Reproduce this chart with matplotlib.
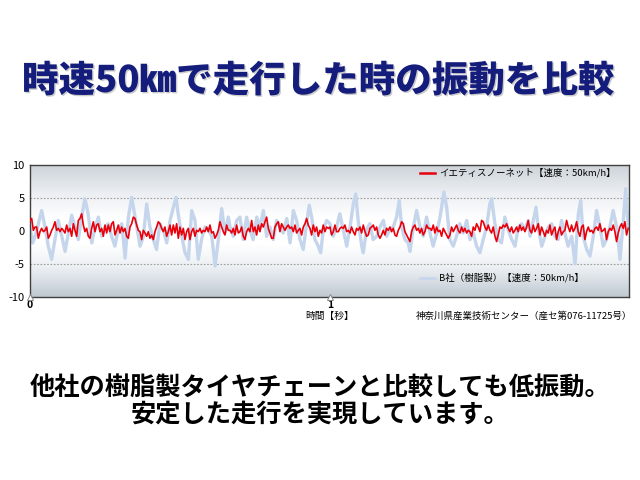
import numpy as np
import matplotlib
matplotlib.use("Agg")
import matplotlib.pyplot as plt
from matplotlib.colors import LinearSegmentedColormap
import matplotlib.patheffects as pe

plt.rcParams['font.family'] = ['Noto Sans CJK JP', 'DejaVu Sans']

title = "時速50㎞で走行した時の振動を比較"
caption1 = "他社の樹脂製タイヤチェーンと比較しても低振動。"
caption2 = "安定した走行を実現しています。"
xlabel = "時間【秒】"
source = "神奈川県産業技術センター（産セ第076-11725号）"
label_red = "イエティスノーネット【速度：50km/h】"
label_blue = "B社（樹脂製）【速度：50km/h】"
yticks = [10, 5, 0, -5, -10]
xticks = [0, 1]

# Red series (イエティスノーネット), sampled every 1/180 s
red_v = [
    1.6,1.9,0.1,0.6,0.6,-1.1,-0.1,0.4,-0.1,0.1,0.6,-1.1,-0.6,0.1,0.6,1.4,0.1,0.4,-0.1,0.4,
    0.1,-0.3,0.9,-0.1,0.4,-0.8,1.1,0.1,-0.8,1.6,1.9,2.6,0.9,-0.1,0.4,-0.8,-1.1,0.4,1.4,-0.1,
    0.9,1.1,-0.1,0.4,-0.8,0.9,-0.3,0.9,-0.1,1.1,1.4,-0.6,0.1,0.9,-0.3,0.6,-0.1,0.4,-0.8,-1.1,
    0.6,1.1,2.1,1.9,0.9,0.1,-0.1,-1.3,0.1,-0.3,-0.8,-0.1,-1.1,-0.6,-1.3,-0.1,0.6,1.4,1.1,0.4,
    -0.1,0.6,-0.8,-0.1,0.9,-0.6,0.9,-0.3,1.1,-1.1,0.6,-0.6,0.4,-1.3,-0.1,0.4,-1.3,-0.1,0.4,-0.8,
    0.1,-0.1,0.4,-0.3,0.1,-0.1,0.6,-0.1,0.9,-0.3,-0.1,-1.1,-0.6,0.1,1.4,0.6,-0.1,-0.6,0.9,0.1,
    0.1,-0.3,0.4,-0.6,0.9,-0.3,-0.1,0.6,-0.8,-1.3,-0.1,0.4,-0.1,1.6,-0.1,0.6,-0.6,0.9,-0.1,1.1,
    0.6,1.4,2.1,0.4,-0.3,-1.1,-1.1,0.6,1.1,1.4,-0.1,1.1,0.6,0.1,0.6,0.9,0.4,0.6,-0.1,0.9,
    -0.3,0.1,0.4,-0.6,0.6,1.1,1.9,0.9,0.4,-0.6,0.9,-0.1,0.6,-0.8,0.1,-0.3,0.9,-0.1,0.6,0.4,
    0.6,-0.6,-0.1,0.9,-0.1,-0.1,0.4,0.6,0.4,0.9,-0.1,0.1,-0.3,0.6,-0.1,-0.6,0.4,0.1,0.6,-0.3,
    0.9,-0.1,-0.8,-0.6,0.4,0.6,0.9,0.1,0.6,-0.6,-1.1,-0.6,0.1,-0.6,0.4,0.1,0.6,-0.1,0.4,-0.6,
    -0.8,0.1,0.6,1.4,1.1,-0.1,-0.6,-1.1,-1.6,-0.1,0.6,0.9,0.1,0.4,-0.3,0.4,-0.6,-0.1,0.9,0.4,
    0.4,0.1,0.9,-0.3,0.6,-0.1,0.1,-0.8,0.4,-0.1,-0.6,-1.1,-0.6,0.6,-0.1,0.4,0.9,0.1,-0.3,0.6,
    -0.1,0.4,-0.3,0.1,-0.1,-0.8,0.6,0.1,1.1,0.6,-0.1,1.6,1.4,0.6,0.1,0.9,0.1,-0.3,0.6,-0.8,
    -1.6,-0.6,0.6,0.4,0.9,0.6,1.1,0.4,-0.1,0.6,-0.3,0.1,0.6,-0.1,0.9,0.1,0.6,-0.1,0.6,1.6,
    0.1,-0.3,0.9,-0.1,0.4,1.1,-0.6,0.6,-0.1,-0.8,0.1,-0.3,0.9,-0.6,0.1,0.6,-1.3,-0.1,0.6,-0.6,
    -0.1,0.1,1.6,0.6,-0.1,0.9,-0.1,0.4,1.4,-0.1,-0.8,0.6,0.9,-1.3,-0.1,0.6,-0.1,0.1,-0.3,0.4,
    0.6,0.1,1.1,-0.1,0.1,0.4,-1.3,-0.1,0.4,0.1,0.9,-0.1,-1.6,-0.3,0.6,1.1,0.4,1.4,-0.6,0.4,
]
red_dt = 1 / 180

# Blue series (B社), time [s] and value
blue_t = [
    0.000,0.009,0.017,0.028,0.039,0.050,0.061,0.072,0.083,0.094,0.106,0.117,0.128,0.139,0.150,0.161,
    0.172,0.183,0.194,0.206,0.217,0.228,0.239,0.250,0.261,0.272,0.283,0.294,0.306,0.317,0.328,
    0.339,0.356,0.367,0.378,0.389,0.400,0.411,0.422,0.433,0.444,0.456,0.467,0.478,0.487,0.494,
    0.506,0.517,0.528,0.539,0.550,0.561,0.572,0.583,0.594,0.606,0.617,0.628,0.639,0.650,0.661,
    0.667,0.678,0.689,0.700,0.711,0.722,0.733,0.744,0.756,0.767,0.778,0.789,0.800,0.811,0.822,
    0.833,0.844,0.856,0.867,0.878,0.889,0.900,0.911,0.922,0.931,0.939,0.950,0.961,0.969,0.978,
    0.989,1.000,1.011,1.022,1.033,1.044,1.056,1.067,1.078,1.086,1.094,1.106,1.111,1.122,1.133,
    1.144,1.156,1.167,1.178,1.189,1.200,1.211,1.222,1.231,1.239,1.250,1.261,1.267,1.278,1.289,
    1.300,1.311,1.322,1.336,1.344,1.356,1.367,1.380,1.389,1.400,1.411,1.422,1.433,1.444,1.456,
    1.467,1.478,1.489,1.500,1.511,1.522,1.533,1.539,1.550,1.561,1.572,1.583,1.594,1.606,1.617,
    1.628,1.639,1.650,1.661,1.667,1.678,1.687,1.694,1.706,1.717,1.728,1.739,1.750,1.761,1.772,
    1.783,1.794,1.806,1.817,1.828,1.836,1.844,1.856,1.867,1.878,1.889,1.900,1.911,1.922,1.933,
    1.944,1.956,1.967,1.978,1.986,1.994,
]
blue_v = [
    0.6,-1.8,-0.8,1.1,3.1,0.6,-2.3,-4.3,-1.3,1.6,-0.8,-3.1,-0.3,2.4,0.6,-1.3,
    2.1,4.9,2.6,-1.8,0.6,2.1,-0.8,0.6,1.1,-0.8,-2.3,0.2,1.1,-4.1,2.1,
    5.1,0.6,-2.3,-0.8,4.1,0.6,-1.3,-2.8,1.1,0.2,-1.8,1.6,3.6,5.1,2.6,
    -0.8,-3.3,-4.3,3.1,1.6,-4.3,-1.3,0.6,0.2,-0.8,-5.3,-1.3,3.4,-0.3,2.1,
    0.6,-0.8,1.6,2.1,-1.3,2.1,0.2,-1.3,2.1,0.6,3.1,-0.8,0.6,-1.3,1.6,
    0.6,-0.3,1.9,-1.8,3.1,1.6,-1.3,-2.8,1.1,3.9,2.1,-1.3,-2.3,-3.3,0.2,
    1.6,1.1,-0.8,0.6,2.6,0.2,-2.3,0.6,4.1,5.6,1.6,-2.3,-3.3,0.2,1.1,
    -1.3,-0.8,0.6,1.6,-0.8,0.2,0.6,2.1,4.6,0.6,-1.3,-1.8,-3.1,0.6,3.1,
    0.6,-0.8,2.1,-0.8,-2.3,-0.3,2.1,5.9,3.6,-1.3,-2.3,-0.8,1.1,-0.3,1.6,
    -1.3,-0.3,-2.3,-3.3,-1.3,0.6,4.1,4.9,1.1,-1.3,-1.8,2.1,0.2,-1.3,-2.3,
    0.6,1.1,0.2,1.6,-0.8,1.6,3.6,0.6,-2.3,-0.8,0.6,1.1,-0.8,-1.3,1.6,
    -0.3,-2.3,-0.8,-5.0,2.6,4.6,-0.8,-2.8,-3.8,-0.8,3.1,0.6,-2.3,-1.3,0.6,
    3.1,0.6,-4.3,1.6,6.4,0.6,
]

fig = plt.figure(figsize=(6.4, 4.8), dpi=100)
fig.patch.set_facecolor('white')

ax = fig.add_axes([30/640, 183/480, 599/640, 132/480])
# gradient background
cmap = LinearSegmentedColormap.from_list('bg', ['#bfc8d1', '#e9edf1', '#ffffff', '#ffffff', '#eaedf1', '#cdd3da'])
grad = np.linspace(0, 1, 256).reshape(-1, 1)
ax.imshow(grad, extent=[0, 2, -10, 10], aspect='auto', cmap=cmap, origin='lower', zorder=0)

for yv in (5, -5):
    ax.axhline(yv, color='#a0a0a0', lw=0.8, ls=(0, (1.5, 1.5)), zorder=1)

red_t = np.arange(len(red_v)) * red_dt
ax.plot(blue_t, blue_v, color='#c5d5ec', lw=2.4, zorder=2, solid_joinstyle='round')
ax.plot(red_t, red_v, color='#e8000b', lw=1.2, zorder=3)

ax.set_xlim(0, 1.997)
ax.set_ylim(-10, 10)
ax.set_yticks(yticks)
ax.set_yticklabels([str(v) for v in yticks], fontsize=8)
ax.set_xticks(xticks)
ax.set_xticklabels([str(v) for v in xticks], fontsize=7.5, fontweight='bold')
ax.tick_params(axis='both', length=0, pad=4)
ax.tick_params(axis='x', pad=2)
for s in ax.spines.values():
    s.set_color('#404040')
    s.set_linewidth(1.0)

# small triangle markers at tick positions
ax.plot(xticks, [-10, -10], ls='none', marker='^', ms=4, mfc='white', mec='#888888', mew=0.7,
        clip_on=False, zorder=5)

# legend entries
ax.plot([0.651, 0.676], [0.939, 0.939], transform=ax.transAxes, color='#e8000b', lw=1.8, zorder=6)
ax.text(0.683, 0.939, label_red, transform=ax.transAxes, fontsize=6.8, va='center', ha='left', zorder=6)
ax.plot([0.651, 0.676], [0.144, 0.144], transform=ax.transAxes, color='#c5d5ec', lw=1.8, zorder=6)
ax.text(0.683, 0.144, label_blue, transform=ax.transAxes, fontsize=6.8, va='center', ha='left', zorder=6)

fig.text(330/640, 1 - 316/480, xlabel, fontsize=7, ha='center', va='center')
fig.text(632/640, 1 - 316/480, source, fontsize=6.8, ha='right', va='center')

fig.text(318/640, 1 - 81/480, title, fontsize=26.3, fontweight='black', color='#141c7c',
         ha='center', va='center',
         path_effects=[pe.withSimplePatchShadow(offset=(1.0, -1.0), shadow_rgbFace='#999999', alpha=0.5)])

fig.text(0.5, 1 - 387/480, caption1, fontsize=18.2, fontweight='bold', color='black', ha='center', va='center')
fig.text(0.5, 1 - 414/480, caption2, fontsize=18.2, fontweight='bold', color='black', ha='center', va='center')

fig.savefig('out.png', dpi=100, facecolor='white')
